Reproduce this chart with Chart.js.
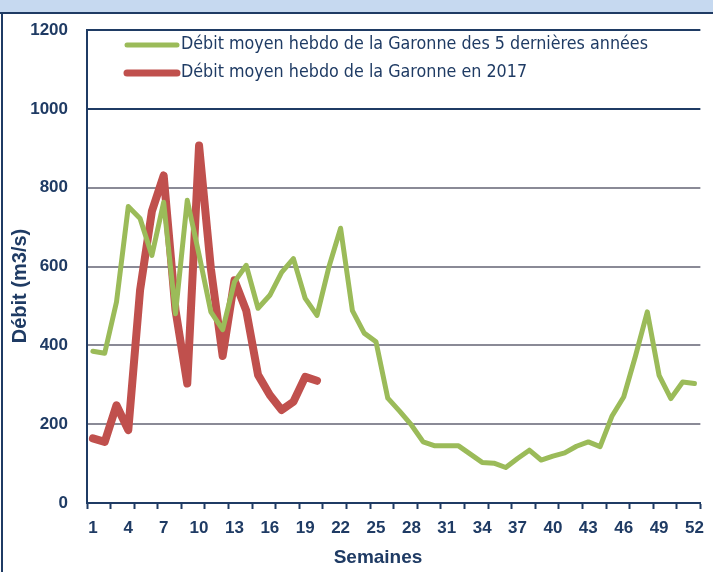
<!DOCTYPE html>
<html>
<head>
<meta charset="utf-8">
<script src="https://cdn.jsdelivr.net/npm/chart.js@4.4.1/dist/chart.umd.min.js"></script>
<style>
html,body{margin:0;padding:0;background:#ffffff;}
#wrap{position:relative;width:713px;height:572px;}
canvas{display:block;}
</style>
</head>
<body>
<div id="wrap"><canvas id="c" width="713" height="572"></canvas></div>
<script>
// ---- data ----
const weeks = [1,2,3,4,5,6,7,8,9,10,11,12,13,14,15,16,17,18,19,20,21,22,23,24,25,26,27,28,29,30,31,32,33,34,35,36,37,38,39,40,41,42,43,44,45,46,47,48,49,50,51,52];
const avg5years = [385,380,510,752,722,628,763,480,768,630,485,440,561,603,494,527,585,620,519,476,598,697,488,431,409,266,233,198,155,145,145,145,124,103,101,90,113,134,109,119,127,144,155,143,220,269,373,485,324,265,307,303];
const flow2017 = [164,155,248,185,540,740,831,490,303,907,595,373,565,488,325,274,236,257,320,310];
const yTicks = [0,200,400,600,800,1000,1200];
const seriesLabels = ['Débit moyen hebdo de la Garonne des 5 dernières années','Débit moyen hebdo de la Garonne en 2017'];
const xTitle = 'Semaines';
const yTitle = 'Débit (m3/s)';

const NAVY = '#1f3b64';
const GREEN = '#9bbb59';
const RED = '#c0504d';

const framePlugin = {
  id: 'frame',
  beforeDraw(chart) {
    const ctx = chart.ctx;
    ctx.save();
    ctx.fillStyle = '#c6d9f0';
    ctx.fillRect(0, 0, 713, 12);
    ctx.strokeStyle = NAVY;
    ctx.lineWidth = 2;
    ctx.beginPath();
    ctx.moveTo(0, 13); ctx.lineTo(713, 13);
    ctx.moveTo(2, 13); ctx.lineTo(2, 572);
    ctx.stroke();
    ctx.restore();
  },
  afterDraw(chart) {
    const ctx = chart.ctx;
    ctx.save();
    // legend
    const ds = chart.data.datasets;
    const rows = [{y: 45, w: 5}, {y: 73, w: 7}];
    ctx.font = '17px "Liberation Sans Narrow", "DejaVu Sans Condensed", sans-serif';
    ctx.textBaseline = 'middle';
    const sx = 467 / ctx.measureText(ds[0].label).width;
    ds.forEach((d, i) => {
      const r = rows[i];
      ctx.strokeStyle = d.borderColor;
      ctx.lineWidth = r.w;
      ctx.lineCap = 'round';
      ctx.beginPath();
      ctx.moveTo(127, r.y); ctx.lineTo(177, r.y);
      ctx.stroke();
      ctx.fillStyle = NAVY;
      ctx.save();
      ctx.translate(181, r.y);
      ctx.scale(sx, 1);
      ctx.fillText(d.label, 0, 0);
      ctx.restore();
    });
    // axis titles
    ctx.fillStyle = NAVY;
    ctx.font = 'bold 19px "Liberation Sans", sans-serif';
    ctx.textAlign = 'center';
    ctx.textBaseline = 'middle';
    ctx.fillText(xTitle, 378, 558);
    ctx.font = 'bold 20px "Liberation Sans", sans-serif';
    ctx.translate(20, 286);
    ctx.rotate(-Math.PI / 2);
    ctx.fillText(yTitle, 0, 0);
    ctx.restore();
  }
};

const chart = new Chart(document.getElementById('c'), {
  type: 'line',
  data: {
    labels: weeks,
    datasets: [
      {label: seriesLabels[0], data: avg5years, borderColor: GREEN, backgroundColor: GREEN, borderWidth: 5, pointRadius: 0, tension: 0, borderJoinStyle: 'round', borderCapStyle: 'round'},
      {label: seriesLabels[1], data: flow2017, borderColor: RED, backgroundColor: RED, borderWidth: 8, pointRadius: 0, tension: 0, borderJoinStyle: 'round', borderCapStyle: 'round'}
    ]
  },
  options: {
    responsive: false,
    animation: false,
    events: [],
    layout: {padding: {left: 0, right: 8, top: 30, bottom: 0}},
    plugins: {legend: {display: false}, tooltip: {enabled: false}},
    scales: {
      x: {
        type: 'category',
        offset: true,
        afterFit(s) { s.height = 69; },
        grid: {
          offset: true,
          drawOnChartArea: false,
          drawTicks: true,
          tickLength: 6,
          tickWidth: 2,
          tickColor: (c) => (c.index === undefined || c.index % 2 === 0) ? NAVY : 'rgba(0,0,0,0)'
        },
        border: {display: true, color: NAVY, width: 2},
        ticks: {
          autoSkip: false,
          maxRotation: 0,
          minRotation: 0,
          padding: 9,
          color: NAVY,
          font: {family: '"Liberation Sans", sans-serif', size: 17, weight: 'bold'},
          callback(v, i) { return i % 3 === 0 ? String(weeks[i]) : ''; }
        }
      },
      y: {
        min: 0,
        max: 1200,
        afterFit(s) { s.width = 87; },
        afterBuildTicks(s) { s.ticks = yTicks.map(v => ({value: v})); },
        grid: {
          drawTicks: false,
          lineWidth: 2,
          color: (c) => (c.tick && c.tick.value >= 1000) ? NAVY : (c.tick && c.tick.value === 0 ? 'rgba(0,0,0,0)' : '#8a8a96')
        },
        border: {display: true, color: NAVY, width: 2},
        ticks: {
          padding: 19,
          color: NAVY,
          font: {family: '"Liberation Sans", sans-serif', size: 17, weight: 'bold'},
          callback(v) { return String(v); }
        }
      }
    }
  },
  plugins: [framePlugin]
});
</script>
</body>
</html>
